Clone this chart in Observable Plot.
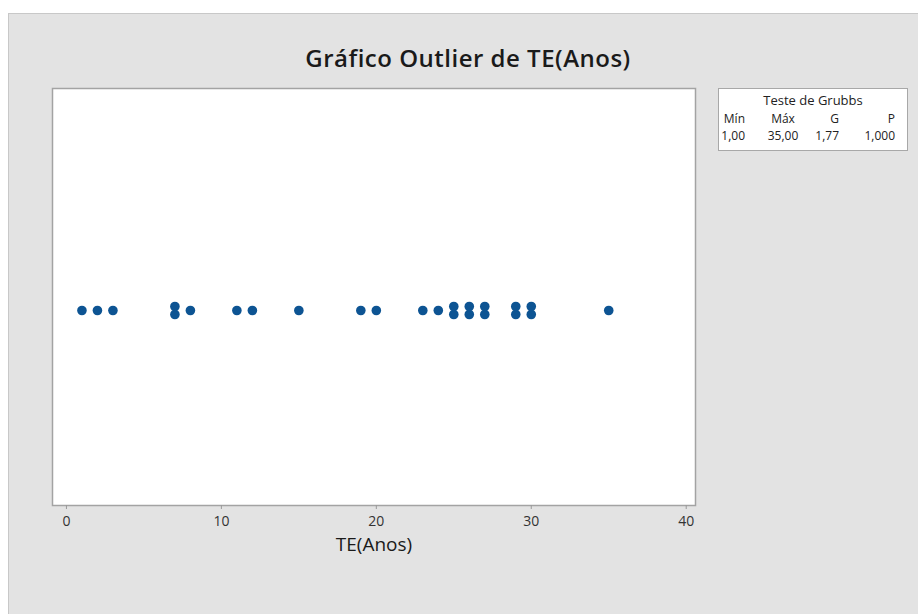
<!DOCTYPE html>
<html>
<head>
<meta charset="utf-8">
<script src="https://cdn.jsdelivr.net/npm/d3@7"></script>
<script src="https://cdn.jsdelivr.net/npm/@observablehq/plot@0.6"></script>
<style>
  html, body { margin: 0; padding: 0; background: #ffffff; }
  #wrap { position: relative; width: 918px; height: 614px; overflow: hidden; background: #ffffff; font-family: "Open Sans", sans-serif; }
  #panel { position: absolute; left: 8px; top: 13px; width: 920px; height: 610px; background: #e3e3e3; border-top: 1px solid #c8c8c8; border-left: 1px solid #c8c8c8; }
  #title { position: absolute; left: 0; width: 936px; top: 41px; text-align: center; font-size: 24px; font-weight: 600; letter-spacing: 0.5px; color: #1a1a1a; white-space: nowrap; }
  #chart { position: absolute; left: 0; top: 0; }
  #legend { position: absolute; left: 718px; top: 88px; width: 190px; height: 63px; background: #fff; border: 1px solid #a8a8a8; box-sizing: border-box; font-size: 12px; color: #222; }
  #legend span { position: absolute; white-space: nowrap; line-height: 16px; }
</style>
</head>
<body>
<div id="wrap">
  <div id="panel"></div>
  <div id="title"></div>
  <div id="chart"></div>
  <div id="legend"></div>
</div>
<script>
const chartTitle = "Gráfico Outlier de TE(Anos)";
const xLabel = "TE(Anos)";
const teValues = [1, 2, 3, 7, 7, 8, 11, 12, 15, 19, 20, 23, 24, 25, 25, 26, 26, 27, 27, 29, 29, 30, 30, 35];
const xTicks = [0, 10, 20, 30, 40];
const grubbsTitle = "Teste de Grubbs";
const grubbsHeaders = ["Mín", "Máx", "G", "P"];
const grubbsValues = ["1,00", "35,00", "1,77", "1,000"];

// stack duplicate values vertically (Minitab-style)
const counts = d3.rollup(teValues, v => v.length, d => d);
const seen = new Map();
const points = teValues.map(v => {
  const i = seen.get(v) || 0;
  seen.set(v, i + 1);
  const n = counts.get(v);
  return { x: v, off: i - (n - 1) / 2 };
});

const plot = Plot.plot({
  width: 918,
  height: 614,
  marginLeft: 52,
  marginRight: 223,
  marginTop: 88,
  marginBottom: 109,
  style: { background: "transparent", fontFamily: "Open Sans, sans-serif" },
  x: { domain: [-0.9, 40.6], ticks: xTicks, label: null },
  y: { domain: [-0.5, 0.5], range: [314, 306], axis: null },
  marks: [
    Plot.frame({ fill: "#ffffff", stroke: "none" }),
    Plot.dot(points, { x: "x", y: "off", r: 4.8, fill: "#0d5493", stroke: "none" }),
    Plot.frame({ stroke: "#a3a3a3", strokeWidth: 1.5 }),
    Plot.axisX({ ticks: xTicks, tickSize: 4, tickPadding: 7, stroke: "#9a9a9a", fontSize: 14, color: "#333", label: null }),
    Plot.text([xLabel], { frameAnchor: "bottom", dy: 45, text: d => d, fontSize: 19, fill: "#1a1a1a", style: { letterSpacing: "0.4px" } })
  ]
});
plot.querySelectorAll('[aria-label="x-axis tick label"] text').forEach(t => t.setAttribute("fill", "#333"));
document.getElementById("chart").appendChild(plot);
document.getElementById("title").textContent = chartTitle;

// legend (Grubbs test table)
const lg = document.getElementById("legend");
const colAnchors = [
  { right: 162 },  // Mín
  { center: 64 },  // Máx
  { right: 68 },   // G
  { right: 12 }    // P
];
function place(text, top, a) {
  const s = document.createElement("span");
  s.textContent = text;
  s.style.top = top + "px";
  if (a.right !== undefined) { s.style.right = a.right + "px"; }
  else { s.style.left = a.center + "px"; s.style.transform = "translateX(-50%)"; }
  lg.appendChild(s);
}
const hd = document.createElement("span");
hd.textContent = grubbsTitle;
hd.style.left = "0"; hd.style.width = "100%"; hd.style.textAlign = "center"; hd.style.top = "3px";
hd.style.fontSize = "13px";
lg.appendChild(hd);
grubbsHeaders.forEach((h, i) => place(h, 22, colAnchors[i]));
grubbsValues.forEach((v, i) => place(v, 39, colAnchors[i]));
</script>
</body>
</html>
